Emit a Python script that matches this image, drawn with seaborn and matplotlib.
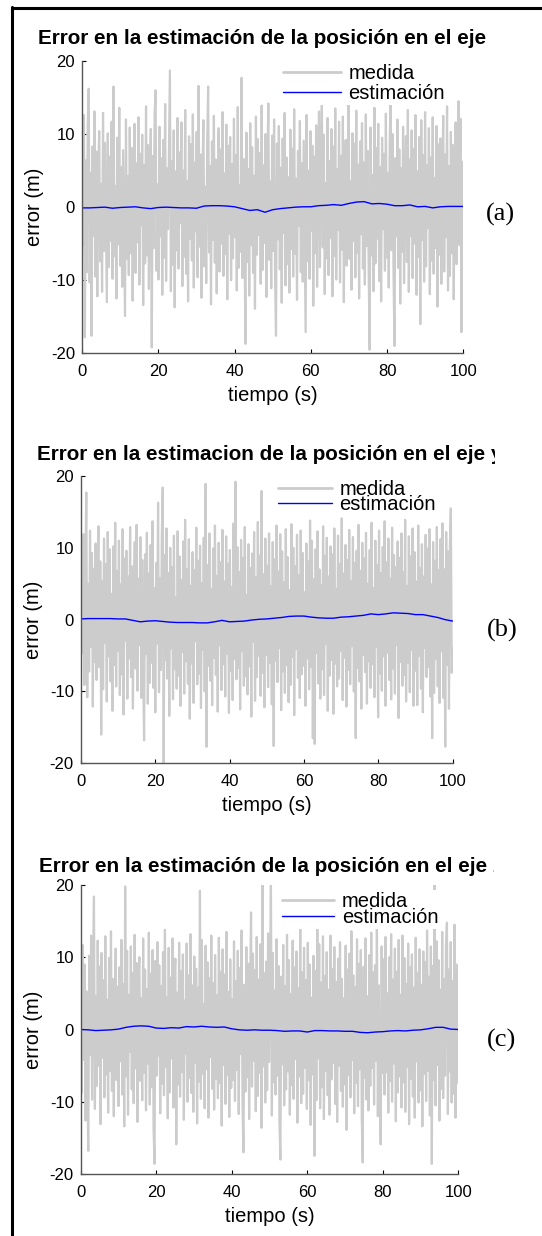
import matplotlib
matplotlib.use('Agg')  # no display

import matplotlib.pyplot as plt
import seaborn as sns
import numpy as np
from matplotlib.lines import Line2D
from matplotlib.transforms import Bbox, TransformedBbox

# error de la medida (m), one value every ~0.25 s
medida_x = [
    9.1, -5.3, 12.6, -17.8, 6.4, -8.9, 11.2, 16.2, -10.3, 4.7,
    -17.6, 8.3, -3.9, 13.1, -9.5, 7.6, -12.2, 5.1, 10.4, -7.4,
    3.2, -11.6, 12.9, -6.0, 8.8, -2.7, -13.0, 10.1, -8.2, 6.9,
    -4.6, 11.7, -9.8, 16.5, -6.7, 2.9, -12.5, 9.5, -5.1, 13.6,
    -8.0, 5.5, -10.9, 7.8, -3.4, -14.9, 12.0, -7.1, 4.2, -9.3,
    10.9, -6.3, 8.1, -12.8, 3.7, 11.4, -9.0, 6.0, -4.8, 12.3,
    -10.6, 7.3, -2.5, 9.9, -13.4, 5.8, -7.7, 13.8, -6.6, 8.5,
    -11.2, 4.4, 10.7, -19.2, 7.0, -5.6, 12.8, 16.0, -8.7, 3.1,
    -9.9, 11.0, -4.0, 6.7, -12.0, 9.2, -6.9, 14.1, -10.1, 5.3,
    -3.0, 8.0, 18.7, -11.5, 6.3, -7.9, 10.5, -13.7, 4.9, -5.9,
    12.2, -8.4, 7.5, -2.2, 11.6, -10.8, 5.0, -6.8, 13.3, -9.1,
    3.6, -12.9, 9.7, -4.3, 8.6, -7.3, 12.7, -11.0, 6.1, -3.3,
    10.3, -9.6, 16.6, -5.4, 7.2, -12.4, 4.0, 11.9, -8.1, 2.8,
    -10.4, 8.9, 16.5, -6.2, 5.6, -13.3, 9.0, -4.5, 12.5, -7.6,
    6.5, -11.8, 3.4, 10.8, -8.8, 7.9, -5.0, 13.0, -9.4, 4.6,
    -6.4, 11.3, -12.6, 8.4, -3.6, 9.6, -10.0, 5.9, -7.0, 12.1,
    -4.1, 7.1, -11.4, 13.7, -8.3, 3.0, -6.1, 17.7, -9.7, 6.6,
    -2.9, -18.7, 10.2, -7.5, 5.2, -12.1, 11.5, -5.2, 8.2, -9.0,
    4.3, -13.9, 12.4, -6.5, 9.3, -3.8, 7.4, -10.5, 13.9, -8.6,
    5.7, -4.9, 10.0, -12.3, 6.2, 14.2, -7.2, 3.5, -11.1, 9.8,
    -6.0, 12.0, -9.2, -17.6, 8.7, -4.4, 11.1, -8.5, 5.4, -13.1,
    9.4, -3.5, 12.9, -10.7, 6.8, -7.8, 4.1, -11.7, 10.6, -5.7,
    8.0, -9.5, 13.4, -6.4, 3.9, -12.7, 7.7, -2.6, 11.8, -8.9,
    6.0, -10.2, 9.1, -4.7, -17.1, 12.6, -7.4, 5.0, -9.8, 10.4,
    -3.2, 8.4, -13.5, 6.9, -6.3, 11.2, -10.9, 4.5, 13.1, -8.2,
    7.6, 14.2, -5.5, 9.9, -11.9, 3.3, -7.0, 12.2, -9.3, 6.3,
    -4.2, 10.7, -12.2, 8.3, -6.7, 13.5, -9.9, 5.2, -3.1, 11.7,
    -10.3, 7.0, -5.8, 12.4, -13.0, 4.8, 9.2, -8.0, 6.4, 14.5,
    -7.1, 3.6, -11.3, 10.1, -4.6, 8.7, -9.6, 13.2, -6.2, 5.8,
    -12.5, 9.0, -3.7, 11.5, -8.4, 6.1, -10.6, 12.7, -5.3, 7.7,
    -9.0, -19.5, 10.9, -6.6, 4.4, -11.5, 13.6, -7.7, 8.1, -4.3,
    11.4, -10.1, 5.5, -12.9, 9.5, -3.0, 7.3, -8.7, 12.8, -6.9,
    4.7, -11.0, 8.9, 14.9, -5.9, 10.0, -9.2, -19.0, 6.7, -4.0,
    12.0, -8.3, 7.9, -13.2, 5.3, -6.1, 11.0, -10.4, 3.8, 9.7,
    -7.5, 13.3, -11.6, 6.5, -3.9, 10.5, -9.7, 8.0, -5.0, 12.6,
    -12.0, 4.9, -6.8, 9.6, -16.0, 11.9, -4.5, 7.1, -10.2, 13.0,
    -8.1, 5.7, -2.8, 10.8, -11.9, 6.8, -7.3, 12.3, -9.1, 4.0,
    -5.6, 11.1, -13.6, 8.6, -6.5, 9.4, -10.5, 3.4, 12.5, -8.8,
    7.2, -4.1, 13.8, -11.4, 5.6, -9.4, 10.3, -6.3, 8.5, -12.6,
    4.5, 11.6, -7.8, 9.0, 14.5, -5.2, 12.1, -17.1, 6.2, -6.0,
]
medida_y = [
    -15.2, 8.7, -4.6, 11.9, -9.1, 6.2, 17.7, -10.8, 5.0, -7.2,
    12.4, -3.8, 9.3, -12.1, 7.1, -5.9, 10.6, -8.4, 4.0, 13.0,
    -6.6, 8.1, -16.0, 5.4, -9.7, 11.3, -3.2, 7.7, -11.4, 12.2,
    -5.1, 9.8, -8.6, 3.6, -12.7, 10.2, -6.3, 13.5, -9.3, 6.8,
    -4.3, 11.0, -10.5, 4.9, -7.6, 12.6, -13.2, 8.5, -2.9, 9.6,
    -11.0, 6.0, -5.4, 12.9, -8.0, 7.4, -12.4, 3.9, 10.8, -6.8,
    13.2, -9.9, 5.7, -3.5, 11.5, -10.9, 8.3, -7.3, -16.8, 9.1,
    -4.8, 12.1, -11.7, 6.4, -8.8, 10.4, -6.0, 13.7, -9.5, 4.4,
    -12.9, 7.9, -3.3, 16.3, -10.1, 5.8, -7.0, 11.8, 18.4, -20.5,
    9.0, -5.6, 12.7, -8.2, 6.5, -13.4, 10.0, -4.0, 7.3, -11.1,
    11.7, -6.9, 3.1, -9.6, 12.3, -7.8, 8.8, -12.0, 5.5, -4.5,
    10.9, -10.3, 13.9, -5.8, 7.0, -8.9, 11.2, -13.8, 4.7, -6.1,
    9.4, -11.6, 6.9, -3.0, 12.8, -9.0, 8.2, -7.5, 10.3, -12.3,
    5.1, -4.2, 11.4, -10.0, 18.9, -17.7, 7.6, -6.4, 12.0, -8.5,
    4.2, -11.9, 9.9, -5.3, 13.1, -7.7, 6.1, -12.8, 10.7, -3.6,
    8.0, -9.8, 12.5, -6.2, 5.3, -10.7, 11.6, -4.7, 7.8, -13.0,
    9.7, -7.1, 4.5, -11.2, 13.4, -5.5, 19.2, -8.3, 10.1, -6.7,
    6.6, -12.5, 11.1, -4.4, 8.6, -9.2, 12.9, -7.9, 3.4, -10.4,
    10.5, -6.5, 7.2, -13.5, 9.2, -3.1, 12.2, -11.3, 5.9, -8.0,
    13.6, -5.0, 8.9, -10.6, 17.9, -7.4, 6.3, -12.2, 11.3, -4.9,
    7.5, -9.4, 12.0, -6.0, 4.6, -11.8, 10.8, -17.6, 8.4, -5.7,
    13.1, -8.7, 6.7, -3.9, 11.9, -12.6, 9.5, -7.2, 5.2, -10.2,
    12.6, -6.3, 8.7, -11.5, 4.1, -9.1, 13.3, -5.2, 10.0, -13.3,
    7.4, -4.1, 11.8, -8.1, 6.2, -10.9, 12.4, -7.6, 9.3, -6.4,
    3.8, -12.0, 10.6, -5.4, 8.1, -9.7, 13.8, -6.6, 11.0, -16.5,
    5.6, -17.3, 9.8, -4.6, 12.3, -8.9, 7.0, -11.0, 4.8, -6.9,
    13.0, -10.5, 8.9, -3.4, 11.4, -12.7, 6.0, -7.8, 10.2, -5.6,
    9.1, -13.1, 12.7, -6.1, 4.3, -9.3, 11.7, -8.2, 7.7, -4.3,
    14.1, -11.2, 6.4, -5.3, 10.4, -12.1, 8.3, -7.0, 12.5, -9.0,
    5.4, -3.7, 11.5, -10.0, 7.9, -16.5, 9.6, -6.7, 13.2, -8.6,
    6.8, -12.4, 10.7, -4.9, 8.5, -7.3, 12.1, -11.7, 5.0, -5.8,
    9.7, -9.5, 13.5, -6.2, 4.4, -10.8, 11.0, -3.8, 7.6, -13.6,
    12.4, -7.5, 6.5, -9.9, 10.1, -5.1, 13.7, -12.0, 8.0, -4.6,
    11.3, -8.4, 5.7, -11.1, 12.8, -6.8, 9.0, -10.3, 7.3, -3.5,
    10.9, -13.7, 8.6, -5.9, 12.0, -9.2, 6.6, -7.7, 13.9, -11.4,
    4.7, -6.0, 11.6, -10.1, 8.8, -4.2, 12.7, -12.0, 9.4, -7.1,
    5.3, -11.9, 13.1, -5.0, 7.2, -9.6, 10.5, -12.9, 6.0, -3.9,
    11.8, -8.0, 9.9, -6.6, 12.6, -10.7, 4.9, -16.5, 10.8, -10.2,
    8.2, -5.5, 12.9, -9.3, 6.9, -11.6, 11.2, -4.4, 13.4, -10.9,
    7.0, -17.7, 12.2, -6.3, 9.5, -12.4, 10.6, 15.5, -7.4, -4.0,
]
medida_z = [
    6.1, -8.8, 11.7, -4.2, 9.0, -12.6, 5.3, -6.9, -16.8, 10.2,
    -3.5, 13.0, -9.7, 7.4, 18.4, -11.0, 4.6, -7.8, 12.3, -5.0,
    8.7, -13.1, 10.6, -3.9, 6.8, -9.4, 12.9, -6.2, 4.1, -11.5,
    9.9, -5.7, 13.6, -8.5, 7.0, -12.0, 3.8, 11.2, -7.0, 5.9,
    -10.6, 8.6, -4.4, 12.4, -9.0, 6.3, -13.4, 19.8, -6.5, 10.9,
    -11.8, 4.8, -3.1, 11.5, -8.3, 7.8, -10.2, 13.1, -5.4, 9.2,
    -12.8, 6.5, 10.0, -7.1, 4.3, -9.8, 12.6, -6.0, 8.3, -11.2,
    5.6, -4.7, 13.4, -10.4, 7.7, -8.0, 11.0, -13.7, -18.6, 9.5,
    -6.4, 12.1, -3.6, 8.9, -11.6, 6.0, -7.5, 10.7, -9.1, 13.8,
    -5.2, 4.5, -12.3, 11.3, -8.7, 7.2, -4.0, 12.6, -10.8, 6.6,
    9.8, -15.9, 5.1, -7.6, 12.0, -9.3, 8.1, -5.9, 10.4, -12.5,
    4.0, -3.3, 11.9, -10.0, 7.5, -6.7, 13.2, -8.8, 6.1, -11.4,
    10.1, -4.6, 8.4, -13.0, 5.8, -7.2, 19.2, -9.6, 12.4, -6.1,
    3.5, -10.9, 11.6, -5.5, 9.3, -12.2, 7.1, -3.8, 13.0, -8.2,
    6.4, -11.1, 10.3, -6.8, 4.7, -9.5, 12.7, -7.4, 8.0, -13.3,
    11.1, -4.9, 7.6, -10.3, 13.5, -6.3, 5.2, -12.1, 9.7, -8.1,
    4.2, -7.0, 12.2, -9.9, 6.7, -5.6, 10.9, -11.7, 8.5, -3.4,
    13.7, -10.7, -17.0, 6.2, -8.6, 11.4, -6.6, 9.1, -12.4, 5.0,
    16.2, -7.9, 10.5, -4.3, 8.2, -11.3, 12.8, -9.2, 6.9, -6.0,
    11.8, -13.6, 20.5, -5.1, 7.8, -10.1, 9.4, -8.4, 13.3, -4.5,
    6.3, 20.5, -11.9, 10.6, -7.3, 5.4, -9.0, 12.5, -6.4, 8.8,
    -12.7, -18.0, 7.3, -4.8, 11.7, -10.5, 6.0, -8.3, 13.1, -5.8,
    9.6, -11.8, 4.9, -7.7, 12.3, -9.6, 8.6, -4.1, 10.8, -12.9,
    5.7, -6.5, 13.9, -10.2, 7.9, -8.9, 11.3, -5.3, 6.8, -11.0,
    12.0, -7.0, 9.0, -13.2, 4.4, -6.2, 10.2, -17.5, 8.1, -9.8,
    15.0, -4.0, 11.8, -10.9, 6.5, -8.0, 12.9, -12.4, 7.4, -5.7,
    10.7, -9.1, 5.5, -11.8, 13.0, -6.9, 8.4, -4.6, 11.4, -10.3,
    6.6, -12.8, 9.8, -5.0, 12.1, -8.5, 7.0, -10.7, 4.3, -7.6,
    11.6, -13.9, 8.3, -6.3, 10.5, -9.4, 13.6, -4.2, 7.5, -11.6,
    5.9, -7.4, 12.5, -10.6, 9.1, -5.5, 11.0, -12.3, -18.4, 8.7,
    -6.7, 12.6, -9.7, 4.6, -11.2, 10.3, -7.8, 13.4, -5.3, 7.9,
    -10.4, 8.9, -4.3, 14.5, -12.0, 6.1, -8.2, -15.9, 11.5, -6.0,
    9.7, -9.0, 12.8, -5.9, 5.0, -11.5, 10.0, -7.1, 13.2, -10.0,
    6.9, -4.7, 11.2, -12.7, 8.0, -8.7, 12.4, -6.5, 4.8, -10.8,
    13.0, -7.3, 9.9, -11.4, 6.3, -5.2, 11.9, -13.1, 8.6, -6.8,
    10.4, -9.3, 5.8, -12.2, 12.7, -4.4, 7.8, -10.1, 11.1, -8.4,
    6.2, -13.4, 10.8, -6.1, 9.3, -9.9, 13.7, -5.7, 7.3, -11.9,
    11.5, -18.6, 8.8, -7.0, 20.5, -10.5, 12.2, -4.9, 9.6, -12.6,
    5.5, -8.2, 13.5, -9.5, 7.0, -6.4, 11.7, 14.8, -11.7, 8.3,
    -5.8, 12.1, -10.1, 6.7, -8.9, 14.5, -12.2, 9.0, -4.6, -7.5,
]

# estimacion del filtro (m), one value every 2 s
estimacion_x = [
    -0.1, -0.1, -0.05, 0.0, -0.15, -0.05, 0.0, 0.05, -0.1, -0.2,
    -0.05, 0.0, -0.05, -0.1, -0.1, -0.15, 0.15, 0.2, 0.2, 0.15,
    0.05, -0.2, -0.45, -0.35, -0.7, -0.35, -0.2, -0.1, 0.0, 0.05,
    0.05, 0.2, 0.25, 0.35, 0.25, 0.5, 0.7, 0.75, 0.45, 0.5,
    0.4, 0.2, 0.2, 0.3, 0.05, 0.1, -0.1, 0.05, 0.1, 0.1, 0.1,
]
estimacion_y = [
    0.1, 0.15, 0.15, 0.15, 0.15, 0.1, 0.1, -0.1, -0.3, -0.2,
    -0.15, -0.25, -0.35, -0.4, -0.4, -0.4, -0.45, -0.45, -0.3, -0.1,
    -0.3, -0.25, -0.2, -0.05, 0.05, 0.1, 0.2, 0.3, 0.45, 0.5,
    0.5, 0.35, 0.25, 0.2, 0.2, 0.35, 0.4, 0.5, 0.6, 0.8,
    0.7, 0.8, 0.95, 0.9, 0.85, 0.7, 0.7, 0.5, 0.3, 0.0, -0.2,
]
estimacion_z = [
    0.0, -0.05, -0.15, -0.1, -0.05, 0.05, 0.3, 0.45, 0.5, 0.45,
    0.2, 0.15, 0.25, 0.2, 0.4, 0.35, 0.45, 0.35, 0.3, 0.35,
    0.1, -0.05, -0.1, -0.05, -0.1, -0.1, -0.15, -0.25, -0.2, -0.2,
    -0.35, -0.15, -0.15, -0.2, -0.2, -0.25, -0.25, -0.4, -0.45, -0.35,
    -0.3, -0.2, -0.15, -0.2, -0.1, -0.05, 0.1, 0.3, 0.3, 0.05, 0.0,
]

titulos = [
    'Error en la estimación de la posición en el eje x',
    'Error en la estimacion de la posición en el eje y',
    'Error en la estimación de la posición en el eje z',
]
etiquetas = ['(a)', '(b)', '(c)']
series = [(medida_x, estimacion_x), (medida_y, estimacion_y), (medida_z, estimacion_z)]

sns.set_theme(style='white')
plt.rcParams['font.family'] = ['Liberation Sans', 'DejaVu Sans']
plt.rcParams['text.color'] = 'black'
plt.rcParams['axes.labelcolor'] = 'black'
plt.rcParams['axes.unicode_minus'] = False

W, H = 542, 1236
fig = plt.figure(figsize=(W / 100, H / 100), dpi=100)


def rect(l, t, r, b):
    return [l / W, 1 - b / H, (r - l) / W, (b - t) / H]


# layout (pixels)
layout = [
    dict(rect=rect(82, 61, 463.3, 353.3), pad=12.3, tx=0.495, clip=489,
         leg=(0.522, 0.9963), ls=0.03, hl=2.86, lab=(500, 214)),
    dict(rect=rect(80.7, 476, 452.7, 763.3), pad=11.5, tx=0.507, clip=495,
         leg=(0.525, 0.994), ls=-0.18, hl=2.67, lab=(502, 630)),
    dict(rect=rect(80.7, 885, 458.3, 1174), pad=9.1, tx=0.503, clip=494,
         leg=(0.527, 0.982), ls=-0.18, hl=2.6, lab=(502, 1040)),
]

for (med, est), titulo, etiq, lay in zip(series, titulos, etiquetas, layout):
    ax = fig.add_axes(lay['rect'])
    t_med = np.linspace(0, 100, len(med))
    t_est = np.linspace(0, 100, len(est))
    sns.lineplot(x=t_med, y=med, ax=ax, color='#cccccc', linewidth=1.6,
                 label='medida', estimator=None)
    sns.lineplot(x=t_est, y=est, ax=ax, color='#0000ff', linewidth=1.0,
                 label='estimación', estimator=None)

    ax.set_xlim(0, 100)
    ax.set_ylim(-20, 20)
    ax.set_xticks([0, 20, 40, 60, 80, 100])
    ax.set_yticks([-20, -10, 0, 10, 20])
    ax.tick_params(direction='in', length=3, width=0.8, colors='black',
                   labelsize=12, bottom=True, left=True)
    ax.tick_params(axis='x', pad=8)
    ax.tick_params(axis='y', pad=5)
    for s in ['top', 'right']:
        ax.spines[s].set_visible(False)
    for s in ['left', 'bottom']:
        ax.spines[s].set_color('#555555')
        ax.spines[s].set_linewidth(1.0)

    ax.set_xlabel('tiempo (s)', fontsize=14.5, labelpad=4.7)
    ax.set_ylabel('error (m)', fontsize=14.5, labelpad=4.9)

    # the original title is cut off on the right
    t = ax.set_title(titulo, fontsize=14.9, fontweight='bold', pad=lay['pad'], x=lay['tx'])
    t.set_clip_box(TransformedBbox(Bbox.from_extents(0, 0, lay['clip'] / W, 1), fig.transFigure))
    t.set_clip_on(True)

    leg = ax.legend(loc='upper left', bbox_to_anchor=lay['leg'], borderaxespad=0,
                    borderpad=0.1, frameon=True, fancybox=False, edgecolor='none',
                    facecolor='white', framealpha=1, fontsize=14.5,
                    handlelength=lay['hl'], handletextpad=0.38, labelspacing=lay['ls'])
    leg.get_lines()[0].set_linewidth(2.0)

    fig.text(lay['lab'][0] / W, 1 - lay['lab'][1] / H, etiq,
             family=['Liberation Serif'], fontsize=19, ha='center', va='center')

# frame lines of the original figure (top and left only)
fig.add_artist(Line2D([12.2 / W, 1], [1 - 7.5 / H] * 2, transform=fig.transFigure,
                      color='black', lw=2.2))
fig.add_artist(Line2D([12.2 / W] * 2, [1 - 6.5 / H, 0], transform=fig.transFigure,
                      color='black', lw=2.2))

fig.savefig('out.png', dpi=100)
